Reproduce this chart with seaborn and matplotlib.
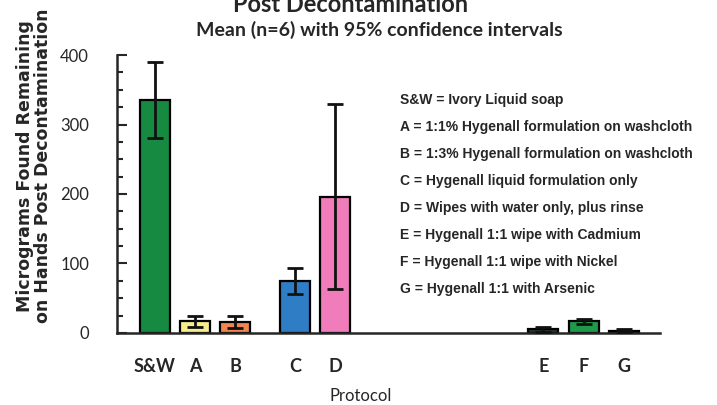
import matplotlib
matplotlib.use("Agg")
import matplotlib.pyplot as plt
import seaborn as sns
import numpy as np
import pandas as pd
from matplotlib.ticker import MultipleLocator

# values
protocols = ["S&W", "A", "B", "C", "D", "E", "F", "G"]
means = [335, 17, 16, 75, 195, 5, 17, 3]
ci_low = [280, 9, 7, 56, 63, 2, 13, 1]
ci_high = [390, 25, 25, 94, 330, 8, 20, 5]
key_lines = [
    "S&W = Ivory Liquid soap",
    "A = 1:1% Hygenall formulation on washcloth",
    "B = 1:3% Hygenall formulation on washcloth",
    "C = Hygenall liquid formulation only",
    "D = Wipes with water only, plus rinse",
    "E = Hygenall 1:1 wipe with Cadmium",
    "F = Hygenall 1:1 wipe with Nickel",
    "G = Hygenall 1:1 with Arsenic",
]

# layout: where each protocol sits along the axis
xpos = [0, 1, 2, 3.5, 4.5, 9.7, 10.7, 11.7]
colors = ["#168a40", "#f6ee8c", "#ef8551", "#2f7dc5", "#f07cbb", "#263a2c", "#1f9a4a", "#263a2c"]

df = pd.DataFrame({"x": xpos, "mean": means, "protocol": protocols})

sns.set_style("ticks")
fig = plt.figure(figsize=(7.17, 4.05), dpi=100)
ax = fig.add_axes([0.163, 0.178, 0.757, 0.686])

sns.barplot(data=df, x="x", y="mean", hue="protocol", palette=colors,
            native_scale=True, width=0.75, errorbar=None, legend=False,
            edgecolor="black", linewidth=1.6, saturation=1, ax=ax)

m = np.array(means)
yerr = [m - np.array(ci_low), np.array(ci_high) - m]
ax.errorbar(xpos, means, yerr=yerr, fmt="none", ecolor="#111111",
            elinewidth=2, capsize=6, capthick=2, zorder=5)

ax.set_xlim(-0.95, 12.6)
ax.set_ylim(0, 400)
ax.yaxis.set_major_locator(MultipleLocator(100))
ax.yaxis.set_minor_locator(MultipleLocator(25))
ax.tick_params(axis="y", which="major", direction="in", length=7, width=1.5, pad=20,
               labelsize=12)
ax.tick_params(axis="y", which="minor", direction="in", length=4, width=1.5)
for lab in ax.get_yticklabels():
    lab.set_fontfamily("Lato")
ax.set_xticks(xpos)
ax.set_xticklabels(protocols, fontfamily="Lato", fontweight="bold", fontsize=13)
ax.tick_params(axis="x", length=0, pad=18)
for s in ["left", "bottom"]:
    ax.spines[s].set_linewidth(1.8)
sns.despine(ax=ax)
ax.set_xlabel("")
ax.set_ylabel("Micrograms Found Remaining\non Hands Post Decontamination",
              fontsize=12.5, fontweight="bold", linespacing=1.0)
ax.yaxis.set_label_coords(-0.12, 0.6)

fig.text(351 / 717, 0.970, "Post Decontamination", ha="center", va="baseline",
         fontsize=17, fontweight="bold", fontfamily="Lato")
fig.text(379 / 717, 1 - 30 / 405, "Mean (n=6) with 95% confidence intervals",
         ha="center", va="center", fontsize=14, fontweight="bold", fontfamily="Lato")
fig.text(361 / 717, 1 - 396 / 405, "Protocol", ha="center", va="center",
         fontsize=12, fontfamily="Lato")

for i, line in enumerate(key_lines):
    fig.text(400 / 717, 1 - (100 + i * 27) / 405, line, ha="left", va="center",
             fontsize=10, fontweight="bold", fontfamily="Liberation Sans")

fig.savefig("out.png", dpi=100)
